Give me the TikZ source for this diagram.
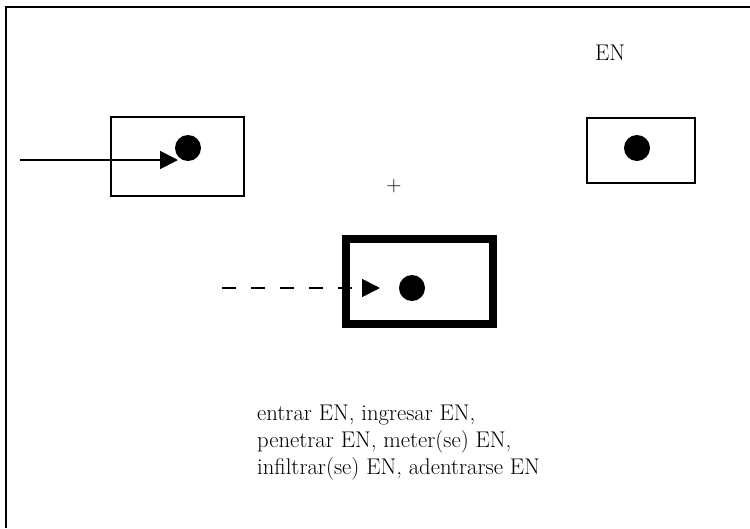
\documentclass[tikz,border=0pt]{standalone}
\usepackage{fontspec}
\usetikzlibrary{arrows.meta}
\begin{document}
\begin{tikzpicture}[x=1pt,y=-1pt,
  framestyle/.style={line width=2.5pt},
  thinbox/.style={draw, rectangle, inner sep=0pt, line width=1.6pt},
  thickbox/.style={draw, rectangle, inner sep=0pt, line width=8pt},
  dotstyle/.style={circle, fill=black, inner sep=0pt, minimum size=26pt},
  arrowline/.style={line width=1.8pt, -{Triangle[length=18pt,width=18pt]}},
  lbl/.style={inner sep=0pt, font=\fontsize{22.7}{27}\selectfont}]
\useasboundingbox (0,0) rectangle (750,528);
% frame
\draw[framestyle] (6,528) -- (6,7) -- (750,7);
% box 1
\node[thinbox, minimum width=133.5pt, minimum height=79.5pt] (b1) at (177.5,156.5) {};
\node[dotstyle] (d1) at (188,148) {};
\coordinate (s1) at (20,160);
\coordinate (e1) at (178,160);
\draw[arrowline] (s1) -- (e1);
% box 2
\node[thickbox, minimum width=147pt, minimum height=85pt] (b2) at (419.5,281.5) {};
\node[dotstyle] (d2) at (412,288) {};
\coordinate (s2) at (222,288);
\coordinate (e2) at (380,288);
\draw[arrowline, dash pattern=on 14pt off 15pt] (s2) -- (e2);
% box 3
\node[thinbox, line width=2pt, minimum width=108pt, minimum height=65pt] (b3) at (641,150.5) {};
\node[dotstyle] (d3) at (637,148) {};
% labels
\node[lbl] (en) at (610,53) {EN};
\node[lbl, font=\fontsize{21}{24}\selectfont] (plus) at (394,186) {+};
\node[lbl, anchor=base west, align=left] (txt) at (257,474)
  {entrar EN, ingresar EN,\\penetrar EN, meter(se) EN,\\infiltrar(se) EN, adentrarse EN};
\end{tikzpicture}
\end{document}
